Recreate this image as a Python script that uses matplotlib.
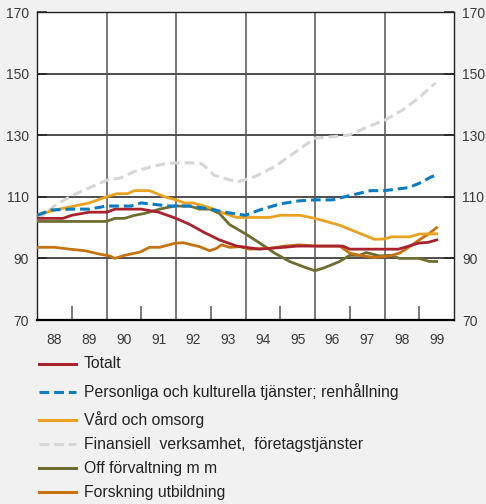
import matplotlib
matplotlib.use("Agg")
import matplotlib.pyplot as plt
from matplotlib.lines import Line2D

plt.rcParams["font.family"] = ["Liberation Sans", "DejaVu Sans"]

# quarterly-ish readings, year as decimal
totalt_x = [1988.0, 1988.75, 1989.0, 1989.5, 1990.0, 1990.25, 1991.0, 1991.5, 1992.0, 1992.4,
            1992.8, 1993.25, 1993.75, 1994.4, 1995.0, 1995.5, 1996.8, 1997.0, 1998.4, 1999.0,
            1999.25, 1999.5]
totalt_y = [103, 103, 104, 105, 105, 106, 106, 105, 103, 101,
            98.5, 96, 94, 93, 93.5, 94, 94, 93, 93, 95,
            95.2, 96]

person_x = [1988.0, 1988.4, 1989.0, 1989.5, 1990.0, 1990.7, 1991.0, 1991.4, 1991.8, 1992.4,
            1993.0, 1993.4, 1994.0, 1994.4, 1995.0, 1995.55, 1996.0, 1996.5, 1996.85, 1997.6,
            1998.0, 1998.7, 1999.0, 1999.35, 1999.5]
person_y = [104, 105.7, 106, 106, 107, 107, 108, 107.5, 107, 107,
            106, 105, 104, 105.7, 107.7, 108.7, 109, 109, 110, 112,
            112, 113, 114.4, 116.5, 117]

vard_x = [1988.0, 1988.5, 1989.08, 1989.5, 1990.0, 1990.3, 1990.6, 1990.8, 1991.24, 1991.67,
          1992.0, 1992.25, 1992.5, 1992.96, 1993.4, 1993.74, 1994.7, 1995.0, 1995.56, 1996.0,
          1996.7, 1997.71, 1998.0, 1998.2, 1998.72, 1999.0, 1999.5]
vard_y = [104, 105.7, 107, 108, 110, 111, 111, 112, 112, 110,
          109, 108, 108, 106.5, 104.6, 103.3, 103.3, 104, 104, 103,
          100.8, 96.2, 96.3, 97, 97, 97.9, 98]

finans_x = [1988.0, 1988.5, 1988.94, 1989.37, 1989.8, 1990.09, 1990.38, 1990.8, 1991.24, 1991.67,
            1991.96, 1992.68, 1992.82, 1993.1, 1993.54, 1993.83, 1994.26, 1994.87, 1995.44, 1996.0,
            1996.5, 1996.97, 1997.54, 1998.03, 1998.52, 1998.98, 1999.47]
finans_y = [102.5, 107, 110, 112.2, 114.4, 115.7, 116, 118.2, 119.6, 120.7,
            121, 121, 120, 117, 115.5, 115, 116.5, 120, 124.6, 129,
            129.5, 130, 132.8, 135, 138.2, 142, 147]

off_x = [1988.0, 1990.0, 1990.24, 1990.52, 1990.81, 1991.1, 1991.53, 1991.96, 1992.39, 1992.68,
         1992.97, 1993.25, 1993.54, 1993.98, 1994.41, 1994.84, 1995.27, 1995.71, 1996.0, 1996.28,
         1996.71, 1997.0, 1997.28, 1997.48, 1997.86, 1998.15, 1998.43, 1999.0, 1999.29, 1999.5]
off_y = [102, 102, 103, 103, 104, 104.6, 106, 107, 107, 106,
         106, 104.6, 101, 98.1, 95, 91.7, 89, 87.1, 86, 87,
         89, 91, 91, 91.9, 90.8, 91, 90, 90, 89, 89]

forsk_x = [1988.0, 1988.5, 1988.94, 1989.37, 1989.8, 1990.09, 1990.24, 1990.52, 1990.95, 1991.24,
           1991.53, 1991.96, 1992.2, 1992.68, 1992.97, 1993.17, 1993.31, 1993.54, 1993.83, 1994.12,
           1994.7, 1995.13, 1995.56, 1996.0, 1996.71, 1997.0, 1997.28, 1997.71, 1998.15, 1998.43,
           1998.72, 1999.0, 1999.29, 1999.5]
forsk_y = [93.6, 93.6, 93, 92.5, 91.4, 90.8, 90, 91, 92, 93.6,
           93.6, 94.9, 95.1, 93.8, 92.5, 93.3, 94.4, 93.6, 93.8, 93,
           93.3, 94, 94.4, 94, 94, 91.7, 91, 90.3, 90.8, 91.7,
           93.8, 96, 98.1, 100]

year_labels = ["88", "89", "90", "91", "92", "93", "94", "95", "96", "97", "98", "99"]
y_ticks = [70, 90, 110, 130, 150, 170]

series = [
    ("Totalt", totalt_x, totalt_y, "#a8232e", "-"),
    ("Personliga och kulturella tjänster; renhållning", person_x, person_y, "#0a7cc1", "--"),
    ("Vård och omsorg", vard_x, vard_y, "#e9a21f", "-"),
    ("Finansiell  verksamhet,  företagstjänster", finans_x, finans_y, "#d6d6d6", "--"),
    ("Off förvaltning m m", off_x, off_y, "#6e6d30", "-"),
    ("Forskning utbildning", forsk_x, forsk_y, "#c8720f", "-"),
]

fig = plt.figure(figsize=(4.86, 5.04), dpi=100, facecolor="#f1f1f1")
ax = fig.add_axes([37 / 486, 1 - 320 / 504, (454 - 37) / 486, (320 - 12) / 504])
ax.set_facecolor("white")

ax.set_xlim(1988, 2000)
ax.set_ylim(70, 170)

for v in [90, 110, 130, 150]:
    ax.axhline(v, color="#1e1e1e", lw=1.1, zorder=1)
for yr in [1990, 1992, 1994, 1996, 1998]:
    ax.axvline(yr, color="#555555", lw=1.1, zorder=1)

# draw order: background-ish first
draw_order = [3, 4, 5, 0, 2, 1]
for i in draw_order:
    label, xs, ys, color, ls = series[i]
    if ls == "--":
        ax.plot(xs, ys, color=color, lw=2.2, dashes=(3.2, 1.6), zorder=3)
    else:
        ax.plot(xs, ys, color=color, lw=2.0, zorder=3)

ax.set_yticks(y_ticks)
ax.tick_params(axis="y", which="major", direction="in", length=7, width=1.1, color="#222222",
               labelsize=10, labelcolor="#3a3a3a", left=True, right=True,
               labelleft=True, labelright=True, pad=6)

ax.set_xticks([1988.5 + i for i in range(12)])
ax.set_xticklabels(year_labels)
ax.set_xticks([1989 + 2 * i for i in range(6)], minor=True)
ax.tick_params(axis="x", which="major", length=0, labelsize=10, labelcolor="#3a3a3a", pad=9)
ax.tick_params(axis="x", which="minor", direction="in", length=10, width=1.1, color="#555555")

for side in ["top", "right", "left"]:
    ax.spines[side].set_color("#222222")
    ax.spines[side].set_linewidth(1.0)
ax.spines["bottom"].set_color("#000000")
ax.spines["bottom"].set_linewidth(1.6)

# legend rows below the plot
row_y = [364, 392, 420, 444, 468, 492]
for (label, xs, ys, color, ls), yp in zip(series, row_y):
    yf = 1 - yp / 504
    line = Line2D([39 / 486, 76 / 486], [yf, yf], transform=fig.transFigure,
                  color=color, lw=2.2, linestyle=ls)
    if ls == "--":
        line.set_dashes((3.2, 1.6))
    fig.add_artist(line)
    fig.text(84 / 486, yf, label, fontsize=11.3, color="#222222", va="center", ha="left")

fig.savefig("out.png", dpi=100, facecolor=fig.get_facecolor())
